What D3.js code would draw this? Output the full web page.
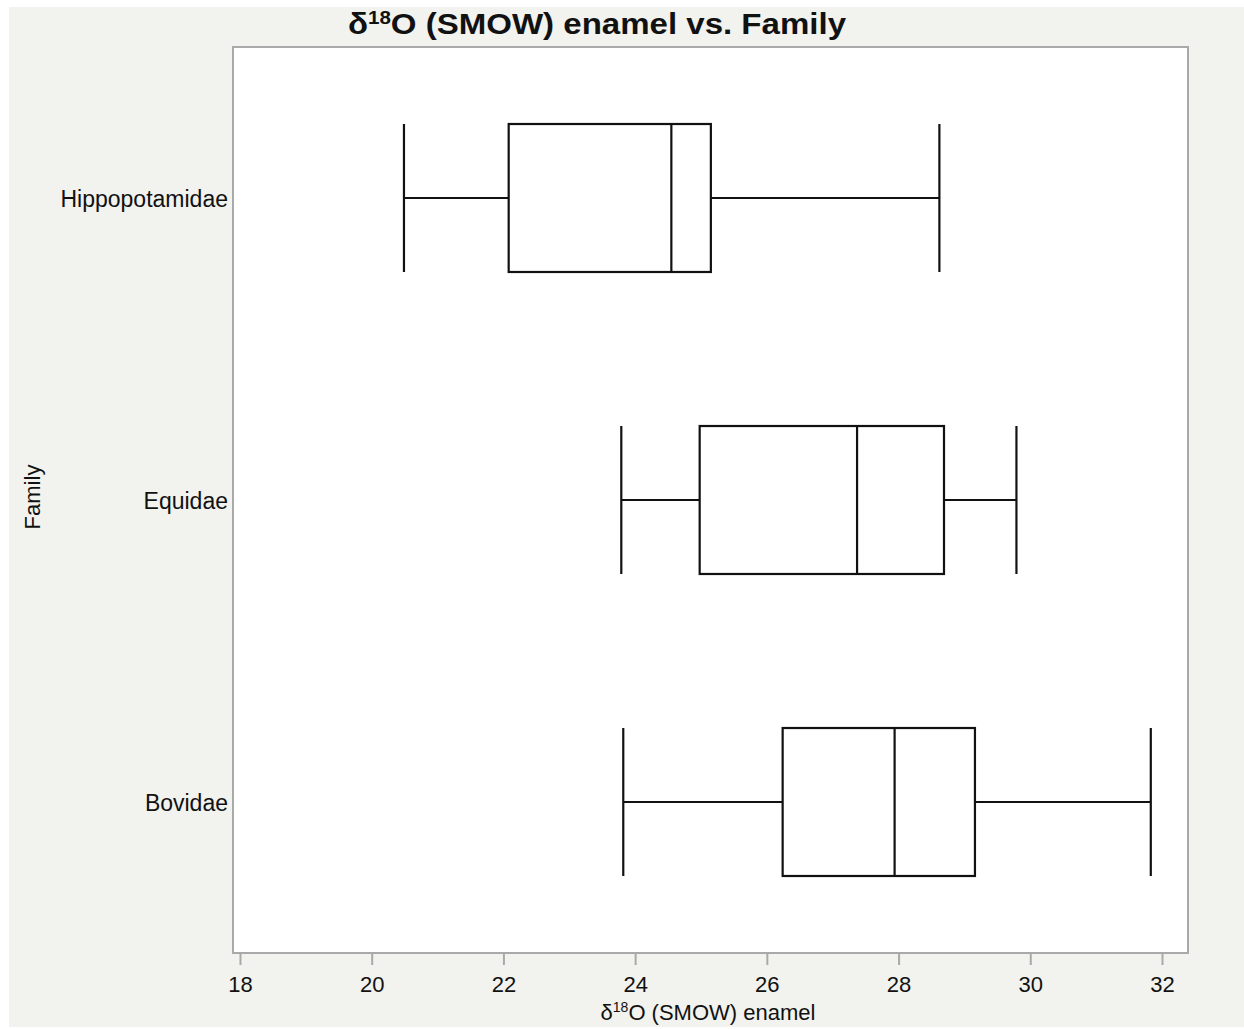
<!DOCTYPE html>
<html><head><meta charset="utf-8">
<script src="https://cdn.jsdelivr.net/npm/d3@7"></script>
<style>
html,body{margin:0;padding:0;background:#fff;}
svg text{font-family:"Liberation Sans",Arial,Helvetica,sans-serif;fill:#111;}
</style></head><body>
<svg id="chart" width="1244" height="1029"></svg>
<script>
const categories = ["Hippopotamidae", "Equidae", "Bovidae"];
const whiskerLow  = [20.49, 23.79, 23.82];
const q1          = [22.08, 24.98, 26.24];
const median      = [24.55, 27.37, 27.94];
const q3          = [25.15, 28.69, 29.16];
const whiskerHigh = [28.62, 29.79, 31.83];
const xTicks = [18, 20, 22, 24, 26, 28, 30, 32];

const svg = d3.select("#chart");
const W = 1244, H = 1029;
const plot = {left: 233, right: 1188, top: 47, bottom: 953};

svg.append("rect").attr("x", 9).attr("y", 7).attr("width", W - 9).attr("height", 1020).attr("fill", "#f2f2ee");
svg.append("rect").attr("x", plot.left).attr("y", plot.top)
  .attr("width", plot.right - plot.left).attr("height", plot.bottom - plot.top)
  .attr("fill", "#fff").attr("stroke", "#a9a9a9").attr("stroke-width", 2);

const x = d3.scaleLinear().domain([17.894, 32.395]).range([plot.left, plot.right]);
const y = d3.scaleBand().domain(categories).range([plot.top, plot.bottom]).paddingInner(0.51).paddingOuter(0.255);

// x axis
const xAxis = svg.append("g").attr("transform", `translate(0,${plot.bottom})`)
  .call(d3.axisBottom(x).tickValues(xTicks).tickSize(12).tickPadding(11).tickFormat(d3.format("d")));
xAxis.select(".domain").remove();
xAxis.selectAll(".tick line").attr("stroke", "#a9a9a9").attr("stroke-width", 2);
xAxis.selectAll(".tick text").attr("font-size", 22).attr("fill", "#111").attr("font-family", "Liberation Sans, Arial, sans-serif");

// y axis labels
const yAxis = svg.append("g").attr("transform", `translate(${plot.left},0)`)
  .call(d3.axisLeft(y).tickSize(0).tickPadding(5));
yAxis.select(".domain").remove();
yAxis.selectAll(".tick text").attr("font-size", 23).attr("dy", "0.38em").attr("fill", "#111").attr("font-family", "Liberation Sans, Arial, sans-serif");

// boxes
const data = categories.map((c, i) => ({c, lo: whiskerLow[i], q1: q1[i], med: median[i], q3: q3[i], hi: whiskerHigh[i]}));
const g = svg.append("g").attr("stroke", "#111").attr("stroke-width", 2.2).attr("fill", "none");
data.forEach(d => {
  const y0 = y(d.c), y1 = y(d.c) + y.bandwidth(), ym = y0 + y.bandwidth() / 2;
  g.append("line").attr("x1", x(d.lo)).attr("x2", x(d.q1)).attr("y1", ym).attr("y2", ym);
  g.append("line").attr("x1", x(d.q3)).attr("x2", x(d.hi)).attr("y1", ym).attr("y2", ym);
  g.append("line").attr("x1", x(d.lo)).attr("x2", x(d.lo)).attr("y1", y0).attr("y2", y1);
  g.append("line").attr("x1", x(d.hi)).attr("x2", x(d.hi)).attr("y1", y0).attr("y2", y1);
  g.append("rect").attr("x", x(d.q1)).attr("y", y0).attr("width", x(d.q3) - x(d.q1)).attr("height", y.bandwidth()).attr("fill", "#fff");
  g.append("line").attr("x1", x(d.med)).attr("x2", x(d.med)).attr("y1", y0).attr("y2", y1);
});

// title
const title = svg.append("text").attr("x", 597).attr("y", 34).attr("text-anchor", "middle")
  .attr("font-size", 29).attr("font-weight", "bold").attr("textLength", 498).attr("lengthAdjust", "spacingAndGlyphs");
title.append("tspan").text("δ");
title.append("tspan").attr("font-size", 18).attr("dy", -10).text("18");
title.append("tspan").attr("dy", 10).text("O (SMOW) enamel vs. Family");

// x label
const xl = svg.append("text").attr("x", 708).attr("y", 1020).attr("text-anchor", "middle").attr("font-size", 22);
xl.append("tspan").text("δ");
xl.append("tspan").attr("font-size", 14).attr("dy", -8).text("18");
xl.append("tspan").attr("dy", 8).text("O (SMOW) enamel");

// y label
svg.append("text").attr("transform", "translate(40,497) rotate(-90)").attr("text-anchor", "middle")
  .attr("font-size", 22).text("Family");
</script>
</body></html>
